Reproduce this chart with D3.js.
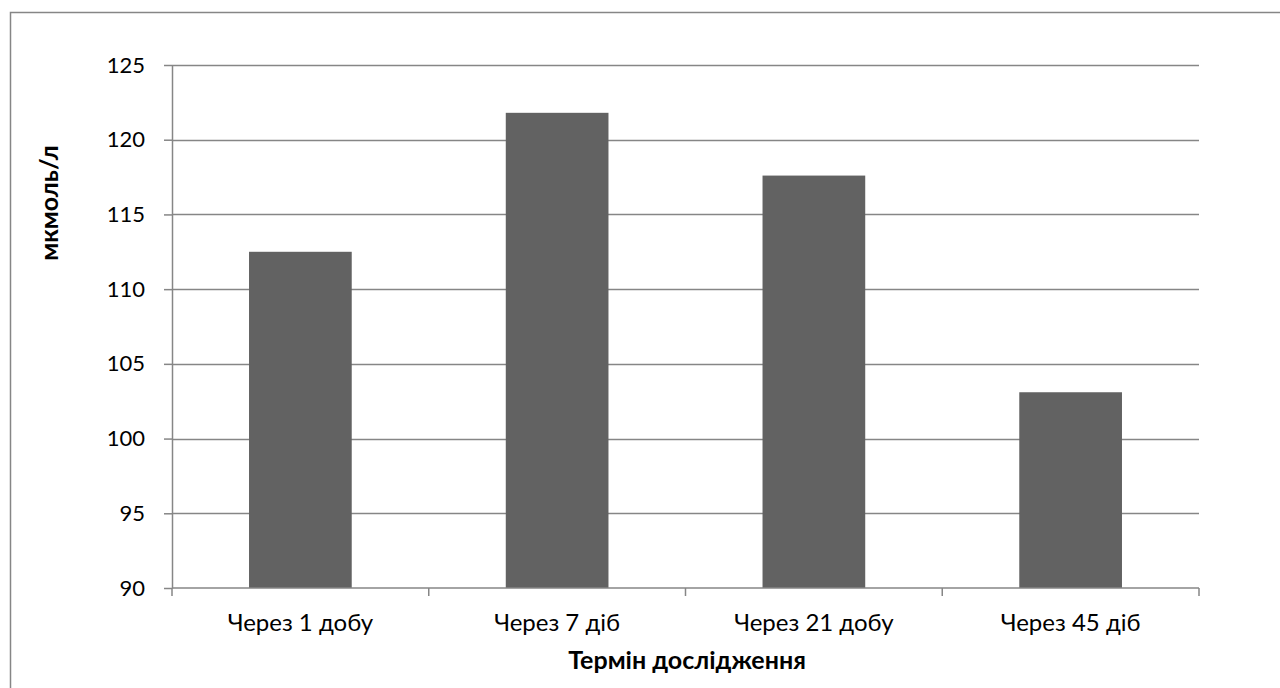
<!DOCTYPE html>
<html><head><meta charset="utf-8">
<script src="https://cdn.jsdelivr.net/npm/d3@7"></script>
<style>body{margin:0;background:#fff}svg{display:block}text{font-family:Lato,"Open Sans",sans-serif}</style>
</head><body>
<svg id="c" width="1280" height="688"></svg>
<script>
const categories = ["Через 1 добу","Через 7 діб","Через 21 добу","Через 45 діб"];
const values = [112.5, 121.8, 117.6, 103.1];
const yTicks = [90,95,100,105,110,115,120,125];
const yTitle = "мкмоль/л";
const xTitle = "Термін дослідження";

const svg = d3.select("#c");
const L=172, R=1199, T=65, B=588;
const grid="#868686";

svg.append("rect").attr("x",10.5).attr("y",12.5).attr("width",1280).attr("height",700)
  .attr("fill","none").attr("stroke",grid).attr("stroke-width",1.5);

const x = d3.scaleBand().domain(categories).range([L,R]).paddingInner(0.6).paddingOuter(0.3);
const y = d3.scaleLinear().domain([90,125]).range([B,T]);

svg.append("g").selectAll("line").data(yTicks.slice(1)).join("line")
  .attr("x1",L).attr("x2",R).attr("y1",d=>Math.round(y(d))+0.5).attr("y2",d=>Math.round(y(d))+0.5)
  .attr("stroke",grid).attr("stroke-width",1.5);

svg.append("g").selectAll("rect").data(values).join("rect")
  .attr("x",(d,i)=>x(categories[i])).attr("width",x.bandwidth())
  .attr("y",d=>y(d)).attr("height",d=>B-y(d)).attr("fill","#626262");

const ya = svg.append("g").attr("transform",`translate(${L},0)`)
  .call(d3.axisLeft(y).tickValues(yTicks).tickSize(8).tickPadding(19).tickSizeOuter(0));
ya.select(".domain").attr("stroke",grid).attr("stroke-width",1.5);
ya.selectAll(".tick line").attr("stroke",grid).attr("stroke-width",1.5);
ya.selectAll("text").attr("font-size",22).attr("fill","#000");

const xs = d3.scalePoint().domain(d3.range(5)).range([L,R]);
const xa = svg.append("g").attr("transform",`translate(0,${B})`);
xa.append("line").attr("x1",L).attr("x2",R).attr("y1",0).attr("y2",0).attr("stroke",grid).attr("stroke-width",1.5);
xa.selectAll("line.t").data(d3.range(5)).join("line").attr("class","t")
  .attr("x1",d=>xs(d)).attr("x2",d=>xs(d)).attr("y1",0).attr("y2",8).attr("stroke",grid).attr("stroke-width",1.5);
xa.selectAll("text").data(categories).join("text")
  .attr("x",d=>x(d)+x.bandwidth()/2).attr("y",43).attr("text-anchor","middle")
  .attr("font-size",24).attr("fill","#000").text(d=>d);

svg.append("text").attr("x",687).attr("y",669).attr("text-anchor","middle")
  .attr("font-size",25).attr("font-weight","bold").text(xTitle);
svg.append("text").attr("transform","translate(58,203) rotate(-90)").attr("text-anchor","middle")
  .attr("font-size",25).attr("font-weight","bold").text(yTitle);
</script>
</body></html>
